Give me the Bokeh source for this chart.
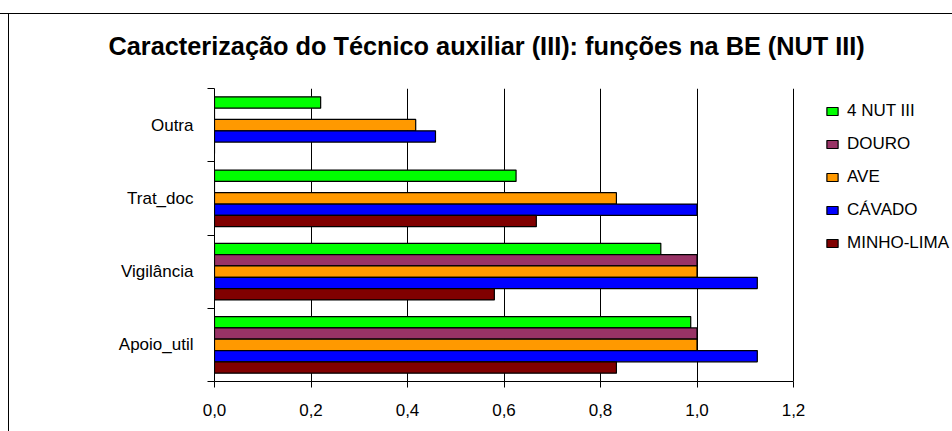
import numpy as np
from bokeh.plotting import figure
from bokeh.models import (Range1d, FixedTicker, CustomJSTickFormatter, Legend, LegendItem)
from bokeh.embed import file_html
from bokeh.resources import INLINE

# ---- data ----
categories = ["Apoio_util", "Vigilância", "Trat_doc", "Outra"]
series_names = ["4 NUT III", "DOURO", "AVE", "CÁVADO", "MINHO-LIMA"]
nut4 = [0.987, 0.925, 0.625, 0.22]
douro = [1.0, 1.0, 0.0, 0.0]
ave = [1.0, 1.0, 0.833, 0.417]
cavado = [1.125, 1.125, 1.0, 0.458]
minho = [0.833, 0.58, 0.667, 0.0]
x_ticks = [0.0, 0.2, 0.4, 0.6, 0.8, 1.0, 1.2]

series_values = [nut4, douro, ave, cavado, minho]
colors = ["#00FF00", "#993366", "#FF9900", "#0000FF", "#800000"]

FONT = "Liberation Sans"

# layout (pixels)
W, H = 952, 431
LEFT, AXIS_RIGHT, TOP, BOTTOM = 214, 793, 88, 381
x_end = x_ticks[-1] * (W - LEFT) / (AXIS_RIGHT - LEFT)   # frame runs to the right edge; legend sits inside

p = figure(width=W, height=H, output_backend="svg", toolbar_location=None,
           x_range=Range1d(0, x_end), y_range=Range1d(0, len(categories)),
           min_border_left=LEFT, min_border_right=0, min_border_top=TOP,
           min_border_bottom=H - BOTTOM)
# outer chart-area border (top and left edges visible, the rest lies outside the window)
p.styles = {"background": "linear-gradient(#000,#000) 0px 13px / 100% 1px no-repeat, "
                          "linear-gradient(#000,#000) 8px 13px / 1px 100% no-repeat, #ffffff"}

p.title.text = "Caracterização do Técnico auxiliar (III): funções na BE (NUT III)"
p.title.text_font = FONT
p.title.text_font_size = "25.3px"
p.title.text_font_style = "bold"
p.title.align = "left"
p.title.offset = -106
p.title.standoff = 58
p.title.text_color = "#000000"

p.outline_line_color = None
p.background_fill_color = "white"
p.border_fill_alpha = 0

bar_h = 0.1546
n_series = len(series_names)
cat_idx = np.arange(len(categories))
items = []
for j, (name, vals, col) in enumerate(zip(series_names, series_values, colors)):
    off = ((n_series - 1) / 2 - j) * bar_h
    y = cat_idx + 0.5 + off
    r = p.hbar(y=y, left=0, right=vals, height=bar_h, fill_color=col,
               line_color="#000000", line_width=1.2)
    items.append(LegendItem(label=name, renderers=[r]))

# x axis
xa = p.xaxis[0]
xa.ticker = FixedTicker(ticks=x_ticks)
xa.bounds = (x_ticks[0], x_ticks[-1])
xa.formatter = CustomJSTickFormatter(code="return tick.toFixed(1).replace('.', ',')")
xa.major_label_text_font = FONT
xa.major_label_text_font_size = "17px"
xa.major_label_text_color = "#000000"
xa.axis_line_color = "#000000"
xa.major_tick_line_color = "#000000"
xa.major_tick_out = 6
xa.major_tick_in = 0
xa.minor_tick_line_color = None
xa.major_label_standoff = 16

# y axis
ya = p.yaxis[0]
ya.ticker = FixedTicker(ticks=list(cat_idx + 0.5), minor_ticks=list(range(len(categories) + 1)))
ya.formatter = CustomJSTickFormatter(args=dict(cats=categories),
                                     code="return cats[Math.floor(tick)]")
ya.major_label_text_font = FONT
ya.major_label_text_font_size = "17px"
ya.major_label_text_color = "#000000"
ya.axis_line_color = "#000000"
ya.major_tick_line_color = None
ya.major_tick_out = 0
ya.major_tick_in = 0
ya.minor_tick_line_color = "#000000"
ya.minor_tick_out = 7
ya.minor_tick_in = 0
ya.major_label_standoff = 14

p.xgrid.grid_line_color = "#000000"
p.xgrid.grid_line_width = 1
p.ygrid.grid_line_color = None

legend = Legend(items=items, location=(611, 128))
legend.padding = 0
legend.margin = 0
legend.border_line_color = None
legend.background_fill_alpha = 0
legend.glyph_width = 14
legend.glyph_height = 10
legend.label_standoff = 8
legend.label_text_font = FONT
legend.label_text_font_size = "17px"
legend.label_text_color = "#000000"
legend.label_height = 20
legend.spacing = 13
p.add_layout(legend, "center")

open("out.html", "w").write(file_html(p, INLINE))
